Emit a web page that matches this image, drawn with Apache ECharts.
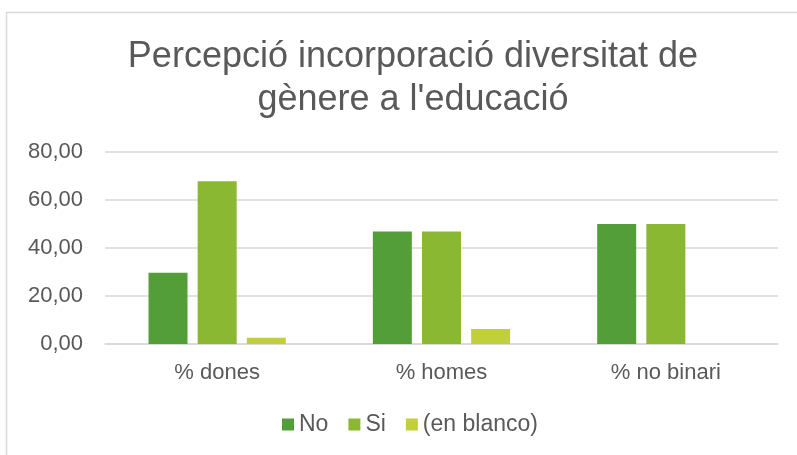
<!DOCTYPE html>
<html><head><meta charset="utf-8">
<script src="https://cdn.jsdelivr.net/npm/echarts@6/dist/echarts.min.js"></script>
<style>html,body{margin:0;padding:0;background:#fff}#c{width:797px;height:455px}</style>
</head><body><div id="c"></div>
<script>
const categories = ['% dones', '% homes', '% no binari'];
const seriesNames = ['No', 'Si', '(en blanco)'];
const valuesNo = [29.7, 46.9, 50.0];
const valuesSi = [67.8, 46.9, 50.0];
const valuesBlanco = [2.6, 6.3, 0];
const colors = ['#549E39', '#8AB833', '#C0CF3A'];

const chart = echarts.init(document.getElementById('c'), null, {renderer: 'canvas'});
const font = 'Liberation Sans, Arial, sans-serif';
const mk = (name, data, color) => ({
  name, type: 'bar', data, barWidth: 39, barGap: '26%',
  itemStyle: {color, borderWidth: 0}
});
chart.setOption({
  animation: false,
  graphic: [{type: 'rect', shape: {x: 6.5, y: 12.5, width: 900, height: 600},
    style: {fill: 'none', stroke: '#D9D9D9', lineWidth: 1.5}, silent: true}],
  title: {
    text: 'Percepció incorporació diversitat de\ngènere a l\'educació',
    left: 408, top: 31, textAlign: 'center',
    textStyle: {fontFamily: font, fontSize: 36, fontWeight: 'normal', color: '#595959', lineHeight: 43}
  },
  legend: {
    data: seriesNames, bottom: 14, left: 277, itemWidth: 12, itemHeight: 12, itemGap: 20,
    icon: 'rect',
    textStyle: {fontFamily: font, fontSize: 23, color: '#595959'}
  },
  grid: {left: 105, right: 19, top: 152, bottom: 111},
  xAxis: {
    type: 'category', data: categories,
    axisLine: {lineStyle: {color: '#D9D9D9', width: 1.5}},
    axisTick: {show: false},
    axisLabel: {fontFamily: font, fontSize: 22, color: '#595959', margin: 18}
  },
  yAxis: {
    type: 'value', min: 0, max: 80, interval: 20,
    axisLabel: {fontFamily: font, fontSize: 22, color: '#595959', margin: 22,
      formatter: v => v.toFixed(2).replace('.', ',')},
    splitLine: {lineStyle: {color: '#D9D9D9', width: 1.5}},
    axisLine: {show: false}, axisTick: {show: false}
  },
  series: [mk(seriesNames[0], valuesNo, colors[0]), mk(seriesNames[1], valuesSi, colors[1]), mk(seriesNames[2], valuesBlanco, colors[2])]
});
</script></body></html>
